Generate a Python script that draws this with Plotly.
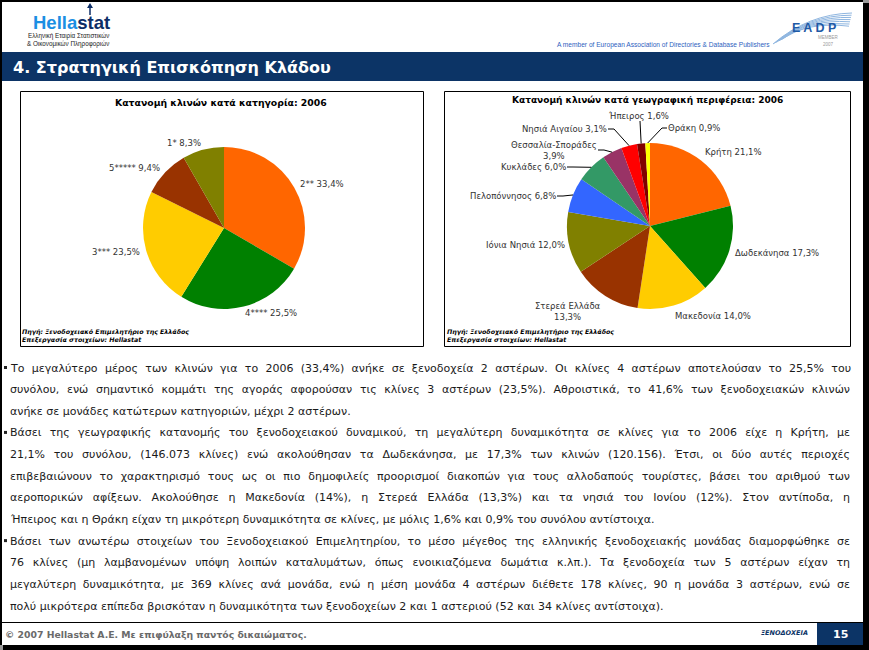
import math
import json
import plotly.graph_objects as go

W, H = 869, 650

# ---------------- data ----------------
cat_labels = ["2**", "4****", "3***", "5*****", "1*"]
cat_share = [33.4, 25.5, 23.5, 9.4, 8.3]
cat_colors = ["#FF6600", "#008000", "#FFCC00", "#993300", "#808000"]

reg_labels = ["Κρήτη", "Δωδεκάνησα", "Μακεδονία", "Στερεά Ελλάδα", "Ιόνια Νησιά",
              "Πελοπόννησος", "Κυκλάδες", "Θεσσαλία-Σποράδες", "Νησιά Αιγαίου",
              "Ήπειρος", "Θράκη"]
reg_share = [21.1, 17.3, 14.0, 13.3, 12.0, 6.8, 6.0, 3.9, 3.1, 1.6, 0.9]
reg_colors = ["#FF6600", "#008000", "#FFCC00", "#993300", "#808000", "#3366FF",
              "#339966", "#993366", "#FF0000", "#800000", "#FFFF00"]

title_left = "Κατανομή κλινών κατά κατηγορία: 2006"
title_right = "Κατανομή κλινών κατά γεωγραφική περιφέρεια: 2006"
source_lines = ["Πηγή: Ξενοδοχειακό Επιμελητήριο της Ελλάδος",
                "Επεξεργασία στοιχείων: Hellastat"]

page_title = "4. Στρατηγική Επισκόπηση Κλάδου"
paragraphs = [
    ["Το μεγαλύτερο μέρος των κλινών για το 2006 (33,4%) ανήκε σε ξενοδοχεία 2 αστέρων. Οι κλίνες 4 αστέρων αποτελούσαν το 25,5% του",
     "συνόλου, ενώ σημαντικό κομμάτι της αγοράς αφορούσαν τις κλίνες 3 αστέρων (23,5%). Αθροιστικά, το 41,6% των ξενοδοχειακών κλινών",
     "ανήκε σε μονάδες κατώτερων κατηγοριών, μέχρι 2 αστέρων."],
    ["Βάσει της γεωγραφικής κατανομής του ξενοδοχειακού δυναμικού, τη μεγαλύτερη δυναμικότητα σε κλίνες για το 2006 είχε η Κρήτη, με",
     "21,1% του συνόλου, (146.073 κλίνες) ενώ ακολούθησαν τα Δωδεκάνησα, με 17,3% των κλινών (120.156). Έτσι, οι δύο αυτές περιοχές",
     "επιβεβαιώνουν το χαρακτηρισμό τους ως οι πιο δημοφιλείς προορισμοί διακοπών για τους αλλοδαπούς τουρίστες, βάσει του αριθμού των",
     "αεροπορικών αφίξεων. Ακολούθησε η Μακεδονία (14%), η Στερεά Ελλάδα (13,3%) και τα νησιά του Ιονίου (12%). Στον αντίποδα, η",
     "Ήπειρος και η Θράκη είχαν τη μικρότερη δυναμικότητα σε κλίνες, με μόλις 1,6% και 0,9% του συνόλου αντίστοιχα."],
    ["Βάσει των ανωτέρω στοιχείων του Ξενοδοχειακού Επιμελητηρίου, το μέσο μέγεθος της ελληνικής ξενοδοχειακής μονάδας διαμορφώθηκε σε",
     "76 κλίνες (μη λαμβανομένων υπόψη λοιπών καταλυμάτων, όπως ενοικιαζόμενα δωμάτια κ.λπ.). Τα ξενοδοχεία των 5 αστέρων είχαν τη",
     "μεγαλύτερη δυναμικότητα, με 369 κλίνες ανά μονάδα, ενώ η μέση μονάδα 4 αστέρων διέθετε 178 κλίνες, 90 η μονάδα 3 αστέρων, ενώ σε",
     "πολύ μικρότερα επίπεδα βρισκόταν η δυναμικότητα των ξενοδοχείων 2 και 1 αστεριού (52 και 34 κλίνες αντίστοιχα)."],
]
footer_text = "© 2007 Hellastat A.E. Με επιφύλαξη παντός δικαιώματος."
section_name = "ΞΕΝΟΔΟΧΕΙΑ"
page_number = "15"

# ---------------- layout helpers (pixel -> paper) ----------------
NAVY = "#0c3466"
SANS = "DejaVu Sans, Verdana, sans-serif"
ARIAL = "Liberation Sans, Arial, sans-serif"

def X(px):
    return px / W

def Y(py):
    return 1 - py / H

shapes = []
annotations = []

def rect(x0, y0, x1, y1, fill=None, line=None, lw=1):
    shapes.append(dict(type="rect", xref="paper", yref="paper",
                       x0=X(x0), x1=X(x1), y0=Y(y1), y1=Y(y0),
                       fillcolor=fill if fill else "rgba(0,0,0,0)",
                       line=dict(color=line if line else "rgba(0,0,0,0)",
                                 width=lw if line else 0)))

def path(points, color="black", lw=1):
    d = "M " + " L ".join(f"{X(px)},{Y(py)}" for px, py in points)
    shapes.append(dict(type="path", xref="paper", yref="paper", path=d,
                       line=dict(color=color, width=lw)))

def text(x, y, s, size, color="#000", family=SANS, xanchor="left",
         yanchor="middle", align="left"):
    annotations.append(dict(xref="paper", yref="paper", x=X(x), y=Y(y), text=s,
                            showarrow=False, xanchor=xanchor, yanchor=yanchor,
                            align=align, borderpad=0, borderwidth=0,
                            font=dict(size=size, color=color, family=family)))

def fmt(v):
    return f"{v:.1f}%".replace(".", ",")

def mid_dirs(values):
    tot = sum(values)
    out, cum = [], 0.0
    for v in values:
        th = 2 * math.pi * (cum + v / 2) / tot
        out.append((math.sin(th), -math.cos(th)))
        cum += v
    return out

# ---------------- page frame ----------------
rect(0, 0, 2, H, fill="#000")
rect(0, 0, W, 2, fill="#000")
rect(863, 3, W, H, fill="#000")
rect(863, 0, W, 3, fill="#9a9a9a")
rect(3, 645, W, H, fill="#000")
rect(0, 645, 3, H, fill="#9a9a9a")

# header logo: Hellastat
text(33, 22, "<b><span style='color:#1b8fe3'>Hella</span><span style='color:#0d2d66'>stat</span></b>",
     18.5, family=ARIAL)
path([(90, 15), (90, 6)], color="#0d2d66", lw=1.5)
shapes.append(dict(type="path", xref="paper", yref="paper",
                   path=f"M {X(87)},{Y(8)} L {X(90)},{Y(3)} L {X(93)},{Y(8)} Z",
                   fillcolor="#0d2d66", line=dict(width=0)))
text(109, 36, "Ελληνική Εταιρία Στατιστικών", 6.3, "#222", ARIAL, xanchor="right")
text(109, 44, "&amp; Οικονομικών Πληροφοριών", 6.3, "#222", ARIAL, xanchor="right")

# EADP logo
for i in range(7):
    sx, sy = 773 + i * 1.5, 44 - i * 0.8
    ex, ey = 852 - i * 0.5, 13 + i * 2.2
    cx, cy = 808, 14 + i * 1.2
    shapes.append(dict(type="path", xref="paper", yref="paper",
                       path=f"M {X(sx)},{Y(sy)} Q {X(cx)},{Y(cy)} {X(ex)},{Y(ey)}",
                       line=dict(color="#8fb6e0", width=1)))
text(814, 28, "<b>E A D P</b>", 12.5, "#1f5aa6", ARIAL, xanchor="center")
text(828, 38, "MEMBER", 4.5, "#9a9a9a", ARIAL, xanchor="center")
text(828, 44, "2007", 4.5, "#9a9a9a", ARIAL, xanchor="center")
text(770, 45, "A member of European Association of Directories &amp; Database Publishers",
     6.6, "#2e62c0", ARIAL, xanchor="right")

# title bar
rect(2, 52, 863, 81, fill=NAVY)
text(13, 67, "<b>" + page_title + "</b>", 16, "#ffffff", SANS)

# chart boxes
rect(20.5, 91.5, 423.5, 346.5, line="#000")
rect(444.5, 91.5, 850.5, 346.5, line="#000")
text(221, 103, "<b>" + title_left + "</b>", 9.3, "#000", SANS, xanchor="center")
text(647, 100, "<b>" + title_right + "</b>", 9.0, "#000", SANS, xanchor="center")
for bx in (22, 447):
    for j, s in enumerate(source_lines):
        text(bx, 332 + j * 8, "<b><i>" + s + "</i></b>", 6.3, "#000", SANS)

# ---------------- pies ----------------
def pie_domain(cx, cy, r):
    return dict(x=[X(cx - r), X(cx + r)], y=[Y(cy + r), Y(cy - r)])

L_CX, L_CY, L_R = 224, 228, 81
R_CX, R_CY, R_R = 650, 226, 83

fig = go.Figure()
fig.add_trace(go.Pie(values=cat_share, labels=cat_labels, sort=False,
                     direction="clockwise", rotation=0, textinfo="none",
                     hoverinfo="skip", showlegend=False,
                     marker=dict(colors=cat_colors, line=dict(width=0)),
                     domain=pie_domain(L_CX, L_CY, L_R)))
fig.add_trace(go.Pie(values=reg_share, labels=reg_labels, sort=False,
                     direction="clockwise", rotation=0, textinfo="none",
                     hoverinfo="skip", showlegend=False,
                     marker=dict(colors=reg_colors, line=dict(width=0)),
                     domain=pie_domain(R_CX, R_CY, R_R)))

LABEL_COLOR = "#333333"
LABEL_SIZE = 8.5
# left pie labels, placed just outside each slice's mid-angle
for lab, v, (dx, dy) in zip(cat_labels, cat_share, mid_dirs(cat_share)):
    px_, py_ = L_CX + dx * L_R * 1.08, L_CY + dy * L_R * 1.08
    text(px_, py_, f"{lab} {fmt(v)}", LABEL_SIZE, LABEL_COLOR, SANS,
         xanchor="left" if dx > 0 else "right")

# right pie labels: (anchor x, anchor y, xanchor, leader side)
REG_LABEL_POS = {
    "Κρήτη": (705, 152, "left", None),
    "Δωδεκάνησα": (735, 253, "left", None),
    "Μακεδονία": (675, 316, "left", None),
    "Στερεά Ελλάδα": (601, 311, "right", None),
    "Ιόνια Νησιά": (565, 245, "right", None),
    "Πελοπόννησος": (556, 196, "right", "r"),
    "Κυκλάδες": (566, 167, "right", "r"),
    "Θεσσαλία-Σποράδες": (597, 150, "right", "r"),
    "Νησιά Αιγαίου": (607, 129, "right", "r"),
    "Ήπειρος": (638, 116, "center", "b"),
    "Θράκη": (668, 128, "left", "l"),
}
TWO_LINE = {"Στερεά Ελλάδα", "Θεσσαλία-Σποράδες"}
for lab, v, (dx, dy) in zip(reg_labels, reg_share, mid_dirs(reg_share)):
    lx, ly, xa, lead = REG_LABEL_POS[lab]
    s = f"{lab}<br>{fmt(v)}" if lab in TWO_LINE else f"{lab} {fmt(v)}"
    text(lx, ly, s, LABEL_SIZE, LABEL_COLOR, SANS, xanchor=xa, align="center")
    ex, ey = R_CX + dx * R_R, R_CY + dy * R_R
    if lead == "r":
        path([(lx + 1, ly), (lx + 7, ly), (ex, ey)])
    elif lead == "l":
        path([(lx - 1, ly), (lx - 6, ly), (ex, ey)])
    elif lead == "b":
        path([(lx + 2, ly + 5), (ex, ey)])

# ---------------- body text ----------------
TEXT_LEFT, TEXT_RIGHT = 10, 850
line_y0, line_step = 368, 21.64
i = 0
justify_lines = []
for para in paragraphs:
    rect(4, line_y0 + i * line_step - 2, 7, line_y0 + i * line_step + 1, fill="#222")
    for k, ln in enumerate(para):
        text(TEXT_LEFT, line_y0 + i * line_step, ln, 11, "#1a1a1a", SANS)
        if k < len(para) - 1:
            justify_lines.append(ln)
        i += 1

# ---------------- footer ----------------
path([(2, 622.5), (863, 622.5)], color="#000", lw=1)
text(5, 634, "<b>" + footer_text + "</b>", 9.3, "#6a6a6a", SANS)
rect(817, 623, 863, 645, fill=NAVY)
text(808, 633, "<b><i>" + section_name + "</i></b>", 6.5, NAVY, SANS, xanchor="right")
text(840, 634, "<b>" + page_number + "</b>", 11, "#ffffff", SANS, xanchor="center")

fig.update_layout(width=W, height=H, margin=dict(l=0, r=0, t=0, b=0),
                  paper_bgcolor="#ffffff", plot_bgcolor="#ffffff",
                  shapes=shapes, annotations=annotations, showlegend=False)

# page without body margin; justify the body paragraphs (all but last line)
post_js = """
document.body.style.margin = '0';
var gd = document.getElementById('{plot_id}');
var lines = %s;
var target = %d;
gd.querySelectorAll('text.annotation-text').forEach(function (t) {
  var s = t.textContent.replace(/\\u00a0/g, ' ');
  if (lines.indexOf(s) >= 0) {
    var n = (s.match(/ /g) || []).length;
    var w = t.getComputedTextLength();
    if (n > 0) { t.style.wordSpacing = ((target - w) / n) + 'px'; }
  }
});
""" % (json.dumps(justify_lines), TEXT_RIGHT - TEXT_LEFT)

fig.write_html("out.html", post_script=post_js,
               config={"displayModeBar": False, "staticPlot": True})
